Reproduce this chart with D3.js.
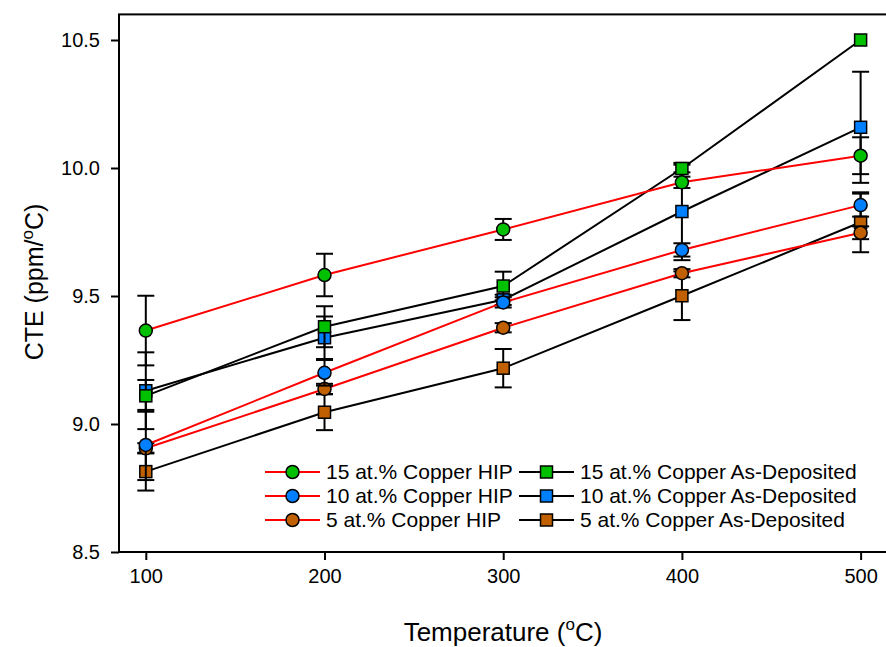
<!DOCTYPE html>
<html>
<head>
<meta charset="utf-8">
<script src="https://cdn.jsdelivr.net/npm/d3@7"></script>
<style>
  html, body { margin: 0; padding: 0; background: #fff; }
  svg { display: block; font-family: "Liberation Sans", Arial, sans-serif; }
</style>
</head>
<body>
<svg id="chart" width="886" height="647"></svg>
<script>
// Measurement temperatures (°C)
const temperatures = [100, 200, 300, 400, 500];
const xTickValues = [100, 200, 300, 400, 500];
const yTickValues = [8.5, 9.0, 9.5, 10.0, 10.5];

// CTE (ppm/°C) and error half-widths, HIP samples
const hip15 = [9.365, 9.582, 9.760, 9.944, 10.048];
const hip15Err = [0.136, 0.083, 0.041, 0.022, 0.072];
const hip10 = [8.918, 9.200, 9.475, 9.680, 9.855];
const hip10Err = [0.137, 0.050, 0.020, 0.026, 0.045];
const hip5 = [8.905, 9.137, 9.376, 9.589, 9.747];
const hip5Err = [0.020, 0.020, 0.018, 0.016, 0.025];

// CTE (ppm/°C) and error half-widths, as-deposited samples
const dep15 = [9.110, 9.380, 9.539, 9.998, 10.500];
const dep15Err = [0.062, 0.080, 0.056, 0.015, 0.000];
const dep10 = [9.130, 9.337, 9.485, 9.830, 10.159];
const dep10Err = [0.150, 0.083, 0.020, 0.190, 0.217];
const dep5 = [8.814, 9.046, 9.218, 9.501, 9.788];
const dep5Err = [0.074, 0.070, 0.075, 0.095, 0.117];

const seriesNames = [
  "15 at.% Copper HIP", "10 at.% Copper HIP", "5 at.% Copper HIP",
  "15 at.% Copper As-Deposited", "10 at.% Copper As-Deposited", "5 at.% Copper As-Deposited"
];

const GREEN = "#00c000", BLUE = "#0080ff", ORANGE = "#c06000";

const series = [
  { name: seriesNames[0], values: hip15, errs: hip15Err, fill: GREEN,  line: "#ff0000", shape: "circle" },
  { name: seriesNames[1], values: hip10, errs: hip10Err, fill: BLUE,   line: "#ff0000", shape: "circle" },
  { name: seriesNames[2], values: hip5,  errs: hip5Err,  fill: ORANGE, line: "#ff0000", shape: "circle" },
  { name: seriesNames[3], values: dep15, errs: dep15Err, fill: GREEN,  line: "#000000", shape: "square" },
  { name: seriesNames[4], values: dep10, errs: dep10Err, fill: BLUE,   line: "#000000", shape: "square" },
  { name: seriesNames[5], values: dep5,  errs: dep5Err,  fill: ORANGE, line: "#000000", shape: "square" }
];

const svg = d3.select("#chart");

const x = d3.scaleLinear().domain([85, 517]).range([119, 891]);
const y = d3.scaleLinear().domain([8.5, 10.6]).range([552, 14.4]);

// Plot frame
svg.append("rect")
  .attr("x", x.range()[0]).attr("y", y.range()[1])
  .attr("width", x.range()[1] - x.range()[0])
  .attr("height", y.range()[0] - y.range()[1])
  .attr("fill", "none").attr("stroke", "#000").attr("stroke-width", 2);

// Axes
const xAxis = d3.axisBottom(x).tickValues(xTickValues).tickSize(8).tickPadding(9).tickFormat(d3.format("d"));
const yAxis = d3.axisLeft(y).tickValues(yTickValues).tickSize(8).tickPadding(11).tickFormat(d3.format(".1f"));

const gx = svg.append("g").attr("transform", `translate(0,${y.range()[0]})`).call(xAxis);
const gy = svg.append("g").attr("transform", `translate(${x.range()[0]},0)`).call(yAxis);
[gx, gy].forEach(g => {
  g.select(".domain").remove();
  g.selectAll(".tick line").attr("stroke", "#000").attr("stroke-width", 2);
  g.selectAll(".tick text").attr("fill", "#000").style("font-size", "20px");
});

// Axis titles
const xTitle = svg.append("text")
  .attr("x", 503).attr("y", 641)
  .attr("text-anchor", "middle")
  .style("font-size", "26px").attr("fill", "#000");
xTitle.append("tspan").text("Temperature (");
xTitle.append("tspan").attr("dy", -11).style("font-size", "17px").text("o");
xTitle.append("tspan").attr("dy", 11).text("C)");

const yTitle = svg.append("text")
  .attr("transform", "translate(43,282) rotate(-90)")
  .attr("text-anchor", "middle")
  .style("font-size", "25px").attr("fill", "#000");
yTitle.append("tspan").text("CTE (ppm/");
yTitle.append("tspan").attr("dy", -10).style("font-size", "17px").text("o");
yTitle.append("tspan").attr("dy", 10).text("C)");

const R = 6.5, S = 12, CAP = 8.5;

function drawMarker(g, shape, cx, cy, fill) {
  if (shape === "circle") {
    g.append("circle").attr("cx", cx).attr("cy", cy).attr("r", R)
      .attr("fill", fill).attr("stroke", "#000").attr("stroke-width", 1.5);
  } else {
    g.append("rect").attr("x", cx - S / 2).attr("y", cy - S / 2)
      .attr("width", S).attr("height", S)
      .attr("fill", fill).attr("stroke", "#000").attr("stroke-width", 1.5);
  }
}

const line = d3.line().x(d => x(d.t)).y(d => y(d.v));

// Drawn last-to-first so the first-listed series sit on top
const plot = svg.append("g");
series.slice().reverse().forEach(s => {
  const pts = temperatures.map((t, i) => ({ t, v: s.values[i], e: s.errs[i] }));
  const g = plot.append("g");
  g.append("path").datum(pts).attr("d", line)
    .attr("fill", "none").attr("stroke", s.line).attr("stroke-width", 2);
  pts.forEach(p => {
    if (p.e > 0) {
      const cx = x(p.t), y1 = y(p.v + p.e), y2 = y(p.v - p.e);
      g.append("line").attr("x1", cx).attr("x2", cx).attr("y1", y1).attr("y2", y2)
        .attr("stroke", "#000").attr("stroke-width", 2);
      [y1, y2].forEach(yy => g.append("line")
        .attr("x1", cx - CAP).attr("x2", cx + CAP).attr("y1", yy).attr("y2", yy)
        .attr("stroke", "#000").attr("stroke-width", 2));
    }
  });
  pts.forEach(p => drawMarker(g, s.shape, x(p.t), y(p.v), s.fill));
});

// Legend: two columns of three entries
const legend = svg.append("g");
series.forEach((s, i) => {
  const col = Math.floor(i / 3), row = i % 3;
  const lx = 265 + col * 254, ly = 472 + row * 24;
  const g = legend.append("g");
  g.append("line").attr("x1", lx).attr("x2", lx + 55).attr("y1", ly).attr("y2", ly)
    .attr("stroke", s.line).attr("stroke-width", 2);
  drawMarker(g, s.shape, lx + 27.5, ly, s.fill);
  g.append("text").attr("x", lx + 61).attr("y", ly).attr("dy", "0.35em")
    .style("font-size", "21px").attr("fill", "#000").text(s.name);
});
</script>
</body>
</html>
